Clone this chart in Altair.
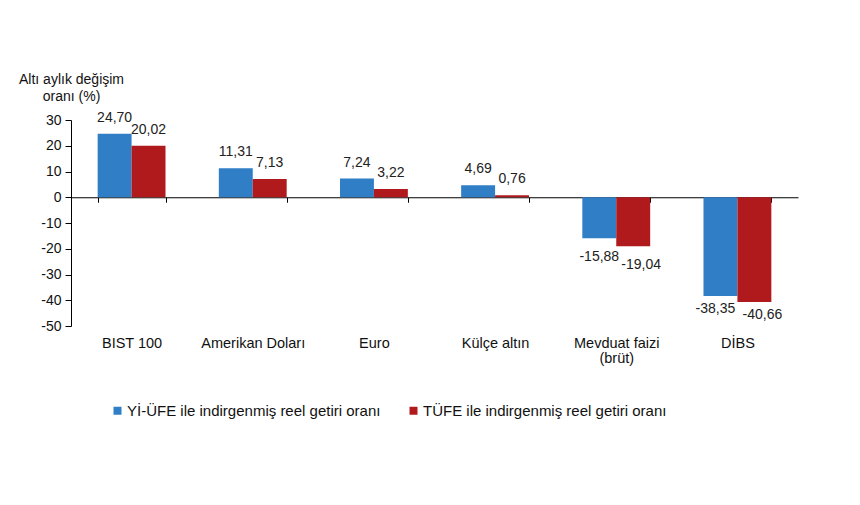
import altair as alt
import pandas as pd

categories = ["BIST 100", "Amerikan Doları", "Euro", "Külçe altın", "Mevduat faizi\n(brüt)", "DİBS"]
series = ["Yİ-ÜFE ile indirgenmiş reel getiri oranı", "TÜFE ile indirgenmiş reel getiri oranı"]
yi_ufe = [24.70, 11.31, 7.24, 4.69, -15.88, -38.35]
tufe = [20.02, 7.13, 3.22, 0.76, -19.04, -40.66]
colors = ["#2f7ec6", "#b01a1c"]
y_ticks = [-50, -40, -30, -20, -10, 0, 10, 20, 30]

rows = []
for c, a, b in zip(categories, yi_ufe, tufe):
    rows.append({"cat": c, "series": series[0], "value": a})
    rows.append({"cat": c, "series": series[1], "value": b})
df = pd.DataFrame(rows)

H = 206
W = 727
FONT = "Liberation Sans"

x_enc = alt.X(
    "cat:N", sort=categories,
    scale=alt.Scale(paddingInner=0.44, paddingOuter=0.22),
    axis=alt.Axis(
        title=None, offset=-H * 50 / 80, domain=True, domainColor="#000",
        ticks=True, tickColor="#000", tickSize=5, tickBand="extent",
        labelAngle=0, labelPadding=134, labelFontSize=14.5, labelColor="#111",
        labelFont=FONT, labelBaseline="top", labelLineHeight=15,
        labelExpr="split(datum.label, '\\n')",
    ),
)
xoff = alt.XOffset("series:N", sort=series)
y_enc = alt.Y(
    "value:Q",
    scale=alt.Scale(domain=[-50, 30], nice=False, zero=False),
    axis=alt.Axis(
        values=y_ticks, grid=False, domainColor="#000", tickColor="#000",
        labelOverlap=False, labelExpr="toString(datum.value)",
        tickSize=6, labelPadding=4, labelFontSize=14, labelColor="#111", labelFont=FONT,
        title=["Altı aylık değişim", "oranı (%)"], titleAngle=0, titleAlign="center",
        titleBaseline="bottom", titleX=0, titleY=-34, titleFontWeight="normal",
        titleFontSize=14, titleColor="#111", titleFont=FONT, titleLineHeight=17,
    ),
)

base = alt.Chart(df).encode(x=x_enc, xOffset=xoff, y=y_enc)

bars = base.mark_bar().encode(
    color=alt.Color(
        "series:N", sort=series,
        scale=alt.Scale(domain=series, range=colors),
        legend=alt.Legend(
            title=None, orient="none", legendX=39, legendY=283, direction="horizontal",
            symbolType="square", symbolSize=64, symbolStrokeWidth=0, labelFontSize=15,
            labelFont=FONT, labelColor="#111", labelLimit=0, columnPadding=25,
            labelOffset=2,
        ),
    ),
)

lab = base.transform_calculate(
    label="replace(replace(format(datum.value, '.2f'), '.', ','), '\u2212', '-')"
)


def text_layer(cond, dx, dy):
    return lab.transform_filter(cond).mark_text(
        baseline="middle", dx=dx, dy=dy, fontSize=14, font=FONT, color="#222"
    ).encode(text="label:N")


s0 = series[0]
pos_text = text_layer("datum.value >= 0", 0, -16)
neg_mid_b = text_layer(f"datum.value < 0 && datum.value > -30 && datum.series == '{s0}'", 0, 19)
neg_mid_r = text_layer(f"datum.value < 0 && datum.value > -30 && datum.series != '{s0}'", 8, 19)
neg_low_b = text_layer(f"datum.value <= -30 && datum.series == '{s0}'", -5, 13)
neg_low_r = text_layer(f"datum.value <= -30 && datum.series != '{s0}'", 8, 13)

chart = alt.layer(bars, pos_text, neg_mid_b, neg_mid_r, neg_low_b, neg_low_r).properties(
    width=W, height=H, background="white",
    padding={"left": 10, "top": 64, "right": 5, "bottom": 5},
).configure_view(strokeWidth=0)

chart.save("out.html", embed_options={"renderer": "svg", "actions": False})
